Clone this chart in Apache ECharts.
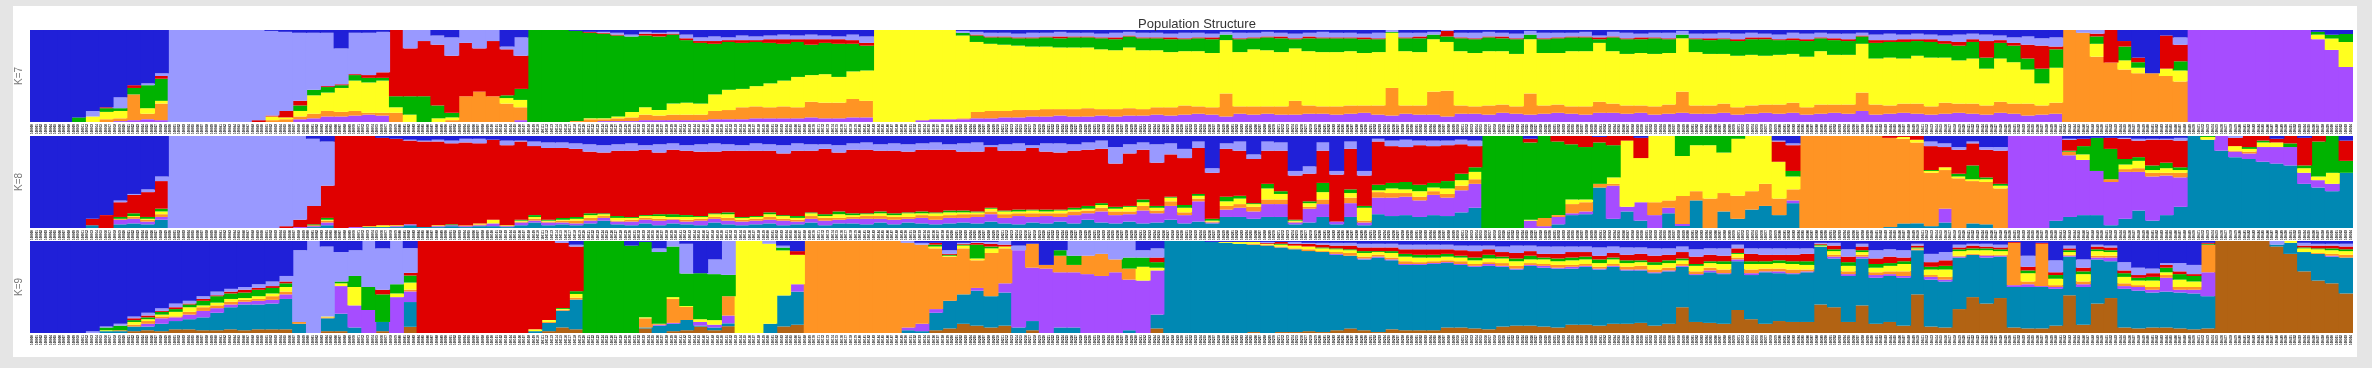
<!DOCTYPE html>
<html>
<head>
<meta charset="utf-8">
<script src="https://cdn.jsdelivr.net/npm/echarts@6/dist/echarts.min.js"></script>
<style>
html, body { margin: 0; height: 100%; background: #e5e5e5; overflow: hidden; }
#card { position: absolute; left: 13px; top: 6px; width: 2344px; height: 351px; background: #fff; }
#main { position: absolute; left: 0; top: 0; width: 2372px; height: 368px; }
</style>
</head>
<body>
<div id="card"></div>
<div id="main"></div>
<script>
var colors = { blue: '#2020d8', peri: '#9999ff', red: '#e00000', green: '#00b300', yellow: '#ffff1f', orange: '#ff9424', purple: '#a64dff', teal: '#0088b3', brown: '#b26313' };

// each panel in groups of 3 samples, 168 bars across
var k7Blue = [100,100,100,95,88,84,73,60,58,47,
  0,0,0,0,0,0,0,1,2,3,3,3,20,3,3,2,
  0,0,0,6,8,0,0,0,18,8,
  0,0,0,1,2,2,3,5,2,3,2,5,8,7,8,6,7,6,5,6,5,6,7,5,7,
  0,0,0,0,0,0,1,2,3,3, 4,3,3,2,3,3,4,3,2,3, 3,4,3,3,4,2,3,3,2,3, 4,3,2,3,3,4,3,0,3,3, 2,0,3,3,2,3,4,1,3,3, 3,2,6,2,3,4,3,3,1,4, 4,3,4,3,4,5,3,4,3,4, 4,3,5,4,5,4,5,6,5,4, 5,6,8,7,9,8,
  0,0,0,0,12,30,47,6,8,
  0,0,0,0,0,0,0,0,0,2,5,4];
var k7Peri = [0,0,0,0,6,0,12,0,2,3,
  100,100,100,100,100,100,98,92,86,74,62,58,39,45,46,44,
  0,20,12,10,20,14,20,12,3,20,
  0,0,0,0,0,1,2,2,2,1,2,4,4,5,3,5,4,4,5,4,5,4,3,6,7,
  0,0,0,0,0,0,2,3,4,4, 4,5,4,5,4,4,4,5,4,5, 5,4,6,5,4,3,6,5,5,4, 5,4,6,5,5,4,6,2,5,4, 3,1,5,6,5,4,5,4,6,5, 4,5,2,5,6,4,5,6,4,5, 5,6,6,5,4,5,6,6,5,5, 6,3,6,7,5,6,5,6,8,6, 7,5,6,9,8,10,
  0,3,4,0,0,0,0,0,8,
  0,0,0,0,0,0,0,0,0,0,0,0];
var k7Red = [0,0,0,0,0,1,0,3,0,3,
  0,0,0,0,0,0,2,1,7,5,0,1,1,1,3,6,
  72,52,60,66,62,58,47,60,50,36,
  0,0,0,0,1,1,1,0,2,3,1,2,2,3,2,3,2,4,5,3,6,4,5,4,3,
  0,0,0,0,0,0,0,1,1,1, 1,1,1,2,1,1,1,2,1,1, 1,2,1,1,2,0,1,1,1,2, 1,2,1,1,1,2,1,0,1,2, 0,6,1,1,1,2,1,0,1,1, 1,1,2,1,1,2,1,1,0,1, 2,1,2,2,2,1,2,2,1,2, 2,1,3,2,3,2,3,3,4,3, 18,3,3,15,25,3,
  0,0,3,35,6,5,0,36,18,
  0,0,0,0,0,0,0,0,0,0,0,0];
var k7Green = [0,0,0,5,0,4,3,7,25,24,
  0,0,0,0,0,0,0,0,0,6,6,6,3,6,5,3,
  12,20,28,14,5,0,0,0,3,12,
  100,100,100,98,93,92,88,82,78,80,75,68,66,55,52,50,48,44,40,38,33,34,36,30,27,
  0,0,0,0,0,0,3,7,7,8, 8,9,10,10,11,11,12,12,12,13, 13,14,13,14,15,6,14,12,14,15, 10,14,15,15,14,15,14,1,14,15, 5,6,14,15,15,14,16,5,15,16, 15,15,4,15,16,15,17,15,4,14, 15,16,16,17,18,16,15,17,14,16, 15,8,17,17,18,16,17,15,16,18, 12,17,18,12,16,20,
  0,0,8,0,15,6,0,0,10,
  0,0,0,0,0,0,0,0,0,3,4,8];
var k7Yellow = [0,0,0,0,6,8,8,0,6,3,
  0,0,0,0,0,0,0,4,2,6,20,20,26,33,33,35,
  6,8,0,4,3,0,0,0,6,8,
  0,0,0,0,1,1,2,6,8,6,12,13,12,18,22,20,22,26,28,33,29,31,28,30,33,
  100,100,100,98,97,97,90,76,73,72, 70,69,68,67,67,66,65,64,66,64, 62,60,59,60,59,58,59,62,61,59, 57,59,59,59,59,57,58,60,59,58, 57,53,59,58,59,58,57,59,57,56, 60,60,64,57,56,57,57,56,58,58, 56,54,56,55,53,54,53,55,58,54, 54,53,50,52,49,52,53,49,47,49, 40,47,45,37,24,38,
  0,0,14,0,10,6,0,8,12,
  0,0,0,0,0,0,0,0,0,5,12,25];
var k7Orange = [0,0,0,0,0,3,3,28,6,18,
  0,0,0,0,0,0,0,2,3,3,5,6,5,5,2,3,
  10,0,0,0,2,28,33,28,20,14,
  0,0,0,1,3,2,3,4,6,5,6,6,6,9,10,13,13,12,13,12,17,17,17,20,18,
  0,0,0,0,0,0,1,7,8,7, 8,7,8,7,8,9,7,8,8,7, 8,9,10,8,8,25,8,9,8,9, 15,9,8,9,9,8,10,30,9,10, 25,28,9,8,10,9,8,23,9,9, 8,9,12,10,9,8,9,10,23,9, 9,10,8,9,9,10,11,8,10,9, 10,20,11,9,10,11,9,12,10,11, 10,12,11,13,10,12,
  100,97,71,64,57,53,53,50,44,
  0,0,0,0,0,0,0,0,0,0,0,0];
var k7Purple = [0,0,0,0,0,0,1,2,3,2,
  0,0,0,0,0,0,0,0,0,3,4,6,6,7,8,7,
  0,0,0,0,0,0,0,0,0,2,
  0,0,0,0,0,1,1,1,2,2,2,2,2,3,3,3,4,4,4,4,5,4,4,5,5,
  0,0,0,2,3,3,3,4,4,5, 5,6,6,7,6,6,7,6,7,7, 8,7,8,9,8,6,9,8,9,8, 8,9,9,8,9,10,8,7,9,8, 8,6,9,9,8,10,9,8,9,10, 9,8,10,10,9,10,8,9,10,9, 9,10,8,9,10,9,10,8,9,10, 9,12,8,9,10,9,8,9,10,9, 8,10,9,7,8,9,
  0,0,0,0,0,0,0,0,0,
  100,100,100,100,100,100,100,100,100,90,76,55];

var k8Blue = [100,100,100,100,90,86,70,63,58,44,
  0,0,0,0,0,0,0,0,0,0,3,6,
  0,0,0,2,3,4,5,4,5,3,3,4,5,5,6,7,7,8,9,10,
  9,8,10,9,8,10,9,8,9,10, 8,9,10,8,9,9,10,8,7,9, 8,9,8,7,9,8,7,10,9,8, 10,8,8,9,7,5,12,9,7,9, 8,14,6,
  35,8,6,20,6,7,38,33,7,38,6,38,
  3,5,4,5,5,5,4,5,
  0,0,0,3,0,0,0,0,1,0,
  0,2,0,0,0,0,0,0,0,0,0,5,8,
  0,0,0,0,0,0,0,0,0,6,8,12,6,12,12,
  0,0,0,0,3,3,2,2,2,3,3,3,2,
  0,0,0,0,0,0,3,0,2,0,0,5];
var k8Peri = [0,0,0,0,0,0,2,1,3,5,
  100,100,100,100,100,100,100,100,98,91,73,48,
  0,0,0,0,0,1,1,2,3,4,5,0,5,1,5,6,6,6,8,8,
  7,8,5,9,7,6,8,9,7,6, 8,7,9,8,7,5,8,7,8,7, 8,8,7,8,6,9,10,2,7,8, 3,9,10,7,8,9,18,10,8,20, 12,10,7,
  5,6,10,5,10,9,5,8,9,4,8,5,
  3,6,8,5,6,5,5,6,
  0,0,0,0,0,0,0,0,0,0,
  0,0,0,0,0,0,0,0,0,0,0,1,2,
  0,0,0,0,0,0,0,0,0,5,4,3,2,3,4,
  0,0,0,0,1,0,0,0,1,2,1,1,3,
  0,0,0,2,0,0,0,0,0,0,0,0];
var k8Red = [0,0,0,0,7,14,16,20,27,30,
  0,0,0,0,0,0,0,0,2,8,20,35,
  100,99,98,95,94,91,93,91,88,90,87,87,87,85,75,78,76,74,67,66,
  71,72,71,67,70,70,70,67,67,72, 71,67,67,71,67,71,64,69,69,66, 68,66,67,68,66,64,65,66,65,64, 67,63,62,62,61,59,47,57,54,47, 46,51,50,
  50,52,49,48,36,44,48,30,35,51,44,33,
  47,40,38,43,40,39,32,23,
  0,0,0,4,0,6,9,12,6,10,
  5,22,0,0,0,0,0,0,0,0,0,22,28,
  0,0,0,0,0,0,2,1,4,26,22,26,24,30,36,
  0,0,0,0,12,8,0,12,22,18,28,25,29,
  0,0,0,9,12,5,4,8,30,6,0,22];
var k8Green = [0,0,0,0,0,0,2,3,2,3,
  0,0,0,0,0,0,0,0,0,0,1,2,
  0,0,0,0,0,0,0,0,1,0,0,0,0,1,2,1,2,2,2,1,
  2,1,1,2,3,2,1,1,2,1, 1,2,1,2,1,2,3,2,1,2, 2,1,2,1,2,2,1,1,1,2, 1,2,1,2,3,2,2,1,3,2, 1,3,2,
  2,5,3,1,5,3,1,2,10,0,4,2,
  6,6,8,7,5,8,7,5,
  100,100,100,84,89,80,60,57,45,35,
  0,0,0,0,20,10,10,18,3,0,0,0,6,
  0,0,0,0,0,0,0,0,0,1,0,3,15,2,2,
  0,0,0,0,1,9,36,33,6,4,5,6,3,
  0,1,0,0,2,2,0,4,3,38,40,13];
var k8Yellow = [0,0,0,0,0,0,0,1,1,3,
  0,0,0,0,0,0,0,0,0,0,0,1,
  0,0,1,2,1,0,0,1,0,0,1,4,1,1,2,1,1,2,3,2,
  3,2,2,3,2,3,2,3,4,2, 2,3,3,2,3,2,4,2,2,3, 2,4,2,3,3,2,2,3,3,2, 3,2,3,2,2,3,3,5,4,3, 4,5,3,
  1,5,6,3,12,6,1,4,8,0,5,14,
  2,5,4,6,4,6,6,8,
  0,0,0,1,0,0,5,3,0,7,
  72,48,72,70,40,50,58,44,62,60,52,40,14,
  0,0,0,0,0,0,0,2,3,2,3,2,2,3,3,
  0,0,0,0,0,6,0,0,5,8,3,5,3,
  0,3,0,5,3,5,5,0,5,4,12,0];
var k8Orange = [0,0,0,0,0,0,1,2,2,3,
  0,0,0,0,0,0,0,0,0,0,1,2,
  0,0,0,0,0,0,0,0,0,1,1,0,0,1,2,1,2,3,3,2,
  1,2,2,2,1,2,2,2,3,2, 2,3,2,2,3,3,2,2,3,3, 3,2,3,4,3,4,3,3,4,3, 4,3,4,4,3,4,4,3,5,3, 5,3,3,
  1,4,4,5,5,5,1,2,5,0,6,2,
  6,5,4,4,4,4,5,5,
  0,0,0,0,9,2,10,10,4,2,
  0,0,14,8,28,10,32,20,25,20,24,18,12,
  100,100,100,100,100,100,97,92,86,58,42,54,46,46,43,
  0,0,0,0,4,0,0,3,3,4,4,3,5,
  0,0,0,1,2,0,0,0,0,0,0,0];
var k8Purple = [0,0,0,0,0,0,5,5,3,3,
  0,0,0,0,0,0,0,0,0,1,1,3,
  0,1,0,0,1,1,0,1,1,1,1,3,1,3,2,3,2,2,3,3,
  3,4,4,5,4,3,5,4,4,4, 4,4,5,3,4,5,4,5,6,4, 5,4,6,5,6,5,7,8,6,9, 6,8,5,9,7,12,9,8,14,10, 15,9,22,
  1,8,10,8,14,14,2,15,14,3,15,3,
  18,20,20,18,22,20,24,26,
  0,0,0,8,2,8,2,3,0,36,
  5,20,14,6,2,0,0,0,0,0,0,0,3,
  0,0,0,0,0,0,0,0,0,0,15,0,0,0,0,
  100,100,100,92,67,60,48,47,51,42,48,43,32,
  0,0,16,6,6,16,18,20,12,8,8,0];
var k8Teal = [0,0,0,0,3,0,4,5,4,9,
  0,0,0,0,0,0,0,0,0,0,1,3,
  0,0,1,1,1,3,1,1,2,1,2,2,1,3,6,3,4,3,5,8,
  4,3,5,3,5,4,3,6,4,3, 4,5,3,4,6,3,5,5,4,6, 4,6,5,4,5,6,5,7,5,4, 6,5,7,5,9,6,5,7,5,6, 9,5,7,
  5,12,12,10,12,12,4,6,12,4,12,3,
  15,13,14,12,14,13,17,22,
  0,0,0,0,0,4,14,15,44,10,
  18,8,0,16,2,30,0,18,10,20,24,14,27,
  0,0,0,0,0,0,1,5,5,2,6,0,5,4,0,
  0,0,0,8,12,14,14,3,10,19,8,14,23,
  100,96,84,77,75,72,70,68,48,44,40,60];

var k9Blue = [100,100,100,100,98,93,90,82,78,73,68,65,60,55,52,50,47,44,38,
  10,0,6,12,10,0,8,0,8,
  0,0,0,0,0,0,0,0,0,0,0,4,
  0,0,0,5,1,8,0,3,35,20,0,
  0,0,0,5,11,
  0,0,0,0,0,0,0,0,2,2,10,2,1,1,0,
  5,3,26,10,0,0,0,0,0,10,8,
  0,0,0,1,1,1,1,1,1,1, 2,2,2,2,3,3,3,4,4,4, 4,5,5,5,6,5,5,6,6,6, 6,7,6,7,7,8,8,6,9,8, 8,4,8,8,8,8,8,2,2,9, 3,10,9,10,3,14,12,4,3,3, 4,1,16,2,21,5,20,4,5,23, 29,30,24,24,26,2,
  0,0,0,0,0,0,2,3,3,3];
var k9Peri = [0,0,0,0,2,1,2,2,3,3,4,3,3,4,3,3,4,5,6,
  78,100,76,32,28,50,45,47,28,
  0,0,0,0,0,0,0,0,0,0,2,2,
  0,0,0,0,0,4,6,32,0,16,35,
  0,0,3,2,0,
  0,0,0,0,0,0,0,2,2,0,4,1,1,2,4,
  5,0,0,0,16,16,14,20,18,8,10,
  0,0,0,0,0,0,0,1,0,2, 1,2,3,3,4,4,4,5,5,5, 5,5,6,4,6,8,6,8,8,6, 6,9,7,8,7,8,7,6,8,7, 8,4,6,7,7,7,6,1,3,8, 3,9,8,8,2,9,9,3,2,3, 3,0,12,0,13,3,9,2,2,9, 8,5,2,9,10,0,
  0,0,0,0,4,0,3,2,2,3];
var k9Red = [0,0,0,0,0,0,0,2,2,1,2,1,2,1,2,3,2,2,2,
  0,0,0,0,0,0,5,0,3,
  100,100,100,100,100,100,100,100,96,86,70,48,
  0,0,0,0,0,0,0,0,0,0,0,
  0,0,0,0,4,
  0,0,0,0,0,0,0,0,0,2,1,1,2,3,2,
  0,0,0,0,0,0,0,0,0,0,5,
  0,0,0,0,0,0,0,1,2,2, 3,3,3,4,4,4,4,5,6,6, 5,6,7,6,5,6,5,4,5,6, 5,4,5,6,7,7,6,7,8,7, 6,5,8,7,6,7,8,1,4,6, 4,6,7,4,2,5,6,2,3,2, 2,1,4,1,3,2,4,3,3,3, 3,4,3,3,2,1,
  0,0,0,0,0,0,2,3,3,3];
var k9Green = [0,0,0,0,0,3,5,2,2,3,3,3,5,7,6,6,7,6,4,
  0,0,0,2,12,25,30,10,8,
  0,0,0,0,0,0,0,0,0,0,1,3,
  100,100,100,95,82,78,55,35,50,50,22,
  0,0,0,3,0,
  0,0,0,0,0,0,0,0,0,2,1,1,15,2,0,
  0,0,0,6,10,0,0,0,12,10,6,
  0,0,0,0,0,0,0,0,1,0, 0,1,1,1,2,1,2,3,3,3, 3,2,3,4,2,3,4,2,3,3, 3,4,2,3,2,3,3,2,2,2, 3,1,3,3,3,3,4,1,2,4, 2,4,3,3,1,3,4,2,2,2, 2,0,3,0,4,2,3,2,2,4, 3,4,5,6,6,1,
  0,0,0,0,0,0,1,1,2,2];
var k9Yellow = [0,0,0,0,0,1,0,3,2,2,5,5,2,3,3,2,3,3,5,
  0,0,1,3,20,0,0,4,8,
  0,0,0,0,0,0,0,0,2,2,1,4,
  0,0,0,0,1,0,2,1,3,5,0,
  100,100,87,48,32,
  0,0,0,0,0,0,0,0,0,2,1,3,2,5,2,
  0,0,0,0,0,0,0,0,0,15,3,
  0,0,0,0,1,2,2,1,2,3, 3,3,3,3,4,3,5,5,5,4, 4,4,4,4,5,5,4,5,4,5, 5,4,5,4,4,5,5,4,6,5, 6,4,6,5,6,6,5,1,4,6, 3,5,6,8,1,6,8,5,4,5, 4,0,9,0,7,3,8,5,4,7, 5,7,3,8,6,0,
  0,0,0,0,0,2,4,4,4,4];
var k9Orange = [0,0,0,0,0,0,1,2,3,2,1,3,4,3,3,2,2,4,3,
  2,0,1,0,0,0,0,0,2,
  0,0,0,0,0,0,0,0,0,1,1,2,
  0,0,0,0,10,1,26,14,0,0,20,
  0,0,0,0,0,
  100,100,100,100,100,100,100,92,86,66,48,50,30,47,38,
  0,26,4,18,8,20,24,14,12,0,0,
  0,0,0,0,0,0,1,1,1,1, 2,1,2,3,2,2,2,3,2,2, 2,3,2,2,3,3,2,2,3,2, 2,2,2,3,4,3,3,2,3,3, 4,2,4,3,3,4,2,0,2,3, 2,3,3,5,1,2,3,1,1,1, 1,46,3,46,2,1,3,2,2,3, 2,3,3,3,3,30,
  0,0,0,0,0,0,0,1,2,3];
var k9Purple = [0,0,0,0,0,0,0,0,3,6,4,5,7,5,3,3,4,4,5,
  0,0,0,30,24,25,0,39,12,
  0,0,0,0,0,0,0,0,0,0,0,0,
  0,0,0,0,0,1,1,0,4,3,8,
  0,0,0,0,8,
  0,0,0,0,0,0,0,3,8,4,0,0,3,0,10,
  84,58,70,60,60,64,62,66,55,57,48,
  0,0,0,0,0,0,0,0,0,0, 0,0,1,0,1,1,1,1,1,1, 1,1,1,2,1,1,1,2,1,2, 1,1,1,1,1,1,1,1,1,2, 1,2,2,1,2,1,1,0,2,2, 2,3,2,2,0,3,2,1,0,2, 1,2,3,1,2,1,3,2,4,3, 4,3,15,3,4,26,
  0,0,0,0,0,0,0,0,1,0];
var k9Teal = [0,0,0,0,0,2,2,5,4,8,9,11,14,19,24,28,27,28,33,
  10,0,14,19,6,0,10,0,28,
  0,0,0,0,0,0,0,0,2,9,18,32,
  0,0,0,0,1,8,8,11,1,3,3,
  0,0,10,33,36,
  0,0,0,0,0,0,0,3,2,19,30,32,38,34,36,
  6,10,0,6,6,0,0,0,3,0,15,
  100,100,100,99,98,97,95,95,92,90, 87,87,82,79,77,81,75,71,71,72, 70,68,67,69,65,61,65,64,64,61, 63,61,62,58,57,57,57,44,51,55, 54,53,48,56,52,52,54,63,53,50, 51,50,50,52,48,51,50,56,46,50, 45,44,45,45,40,42,41,48,40,42, 41,38,39,39,39,35,
  0,0,0,0,2,12,21,29,29,39];
var k9Brown = [0,0,0,0,0,0,0,2,3,2,4,4,3,3,4,3,4,4,4,
  0,0,2,2,0,0,2,0,7,
  0,0,0,0,0,0,0,0,0,2,6,4,
  0,0,0,0,5,0,2,3,7,3,7,
  0,0,0,7,9,
  0,0,0,0,0,0,0,0,0,3,5,10,8,6,8,
  0,3,0,0,0,0,0,0,0,0,5,
  0,0,0,0,0,0,1,0,1,1, 2,1,3,5,3,1,4,3,3,3, 6,6,5,4,7,8,8,7,6,9, 9,8,10,10,11,8,10,28,12,11, 10,25,15,10,13,12,12,31,28,12, 30,10,12,8,42,7,6,26,39,32, 38,6,5,5,8,41,9,32,38,6, 5,6,6,5,4,5,
  100,100,100,100,94,86,67,57,54,43];

// sample ids under the bars are too small to read in the picture, these are stand-ins
var sampleIds = [];
for (var s = 0; s < 505; s++) { sampleIds.push(String(100000 + s)); }

var panels = [
  { name: 'K=7', top: 30, stack: [['purple', k7Purple], ['orange', k7Orange], ['yellow', k7Yellow], ['green', k7Green], ['red', k7Red], ['peri', k7Peri], ['blue', k7Blue]] },
  { name: 'K=8', top: 136, stack: [['teal', k8Teal], ['purple', k8Purple], ['orange', k8Orange], ['yellow', k8Yellow], ['green', k8Green], ['red', k8Red], ['peri', k8Peri], ['blue', k8Blue]] },
  { name: 'K=9', top: 241, stack: [['brown', k9Brown], ['teal', k9Teal], ['purple', k9Purple], ['orange', k9Orange], ['yellow', k9Yellow], ['green', k9Green], ['red', k9Red], ['peri', k9Peri], ['blue', k9Blue]] }
];

var grids = [], xAxes = [], yAxes = [], series = [];
panels.forEach(function (p, i) {
  grids.push({ left: 30, width: 2323, top: p.top, height: 92 });
  var bars = p.stack[0][1].map(function (v, b) { return b + 1; });
  xAxes.push({ type: 'category', gridIndex: i, data: bars, show: false });
  xAxes.push({
    type: 'category', gridIndex: i, data: sampleIds, position: 'bottom',
    axisLine: { show: false }, axisTick: { show: false },
    axisLabel: { interval: 0, rotate: 90, fontSize: 3, fontWeight: 'bold', color: '#000', margin: 7, align: 'center', verticalAlign: 'middle', fontFamily: 'Liberation Sans' }
  });
  yAxes.push({
    type: 'value', gridIndex: i, min: 0, max: 1,
    name: p.name, nameLocation: 'middle', nameRotate: 90, nameGap: 6,
    nameTextStyle: { color: '#777', fontSize: 10, fontFamily: 'Liberation Sans' },
    axisLine: { show: false }, axisTick: { show: false }, axisLabel: { show: false }, splitLine: { show: false }
  });
  p.stack.forEach(function (st) {
    series.push({
      type: 'bar', name: p.name + ' ' + st[0], stack: p.name,
      xAxisIndex: i * 2, yAxisIndex: i,
      // a little wider than the 13.83px band so no seams show between neighbours
      barWidth: 15, silent: true,
      itemStyle: { color: colors[st[0]] },
      data: st[1].map(function (v, b) {
        var total = 0;
        p.stack.forEach(function (o) { total += o[1][b]; });
        return v === 0 ? null : v / total;
      })
    });
  });
});

var myChart = echarts.init(document.getElementById('main'));
myChart.setOption({
  animation: false,
  title: {
    text: 'Population Structure', left: 1192, top: 13, textAlign: 'center',
    textStyle: { fontSize: 13, fontWeight: 'normal', color: '#333', fontFamily: 'Liberation Sans' }
  },
  grid: grids,
  xAxis: xAxes,
  yAxis: yAxes,
  series: series
});
</script>
</body>
</html>
